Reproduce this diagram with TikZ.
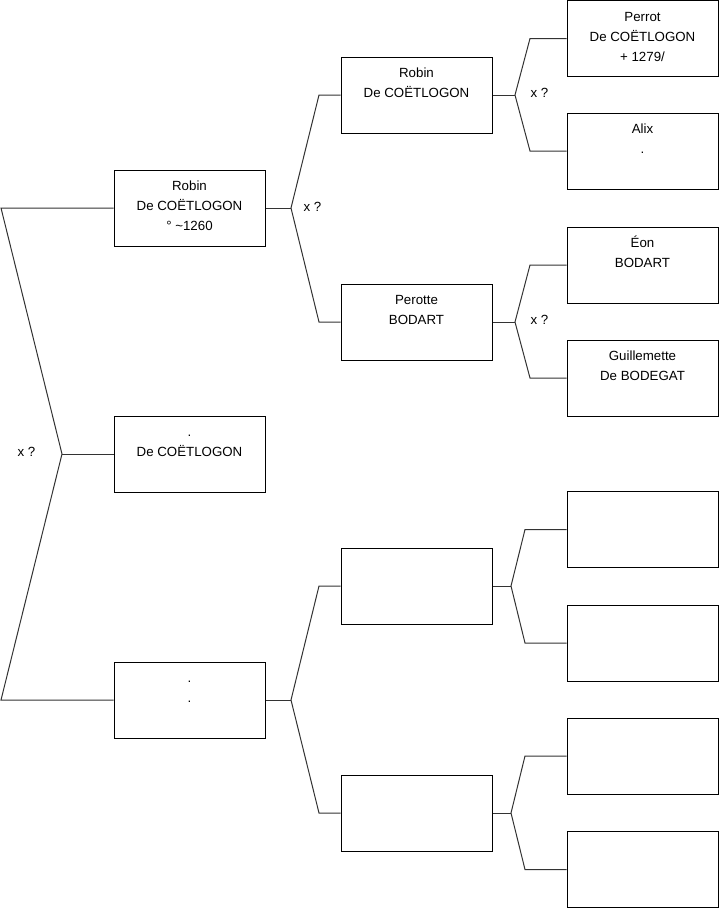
\documentclass[tikz,border=0pt]{standalone}
\usepackage{fontspec}
\setmainfont{Liberation Sans}
\newcommand\famtext{\fontsize{13.3pt}{20pt}\selectfont}
\begin{document}
\begin{tikzpicture}[x=1pt,y=1pt,
  box/.style={draw=black, line width=1pt, minimum width=151pt, minimum height=76pt, inner sep=0pt},
  txt/.style={align=center, inner sep=0pt, anchor=base, font=\famtext},
  lbl/.style={inner sep=0pt, font=\famtext},
  link/.style={draw=black!80, line width=1pt}]
\useasboundingbox (0,0) rectangle (719,-908);
% column 1
\node[box] (a1) at (189.5,-208) {};
\node[txt] (a1t) at (189.5,-230.5) {Robin\\De COËTLOGON\\° \textasciitilde1260};
\node[box] (a2) at (189.5,-454) {};
\node[txt] (a2t) at (189.5,-456.5) {.\\De COËTLOGON};
\node[box] (a3) at (189.5,-700) {};
\node[txt] (a3t) at (189.5,-702.5) {.\\.};
% column 2
\node[box] (b1) at (416.5,-95) {};
\node[txt] (b1t) at (416.5,-97.5) {Robin\\De COËTLOGON};
\node[box] (b2) at (416.5,-322) {};
\node[txt] (b2t) at (416.5,-324.5) {Perotte\\BODART};
\node[box] (b3) at (416.5,-586) {};
\node[box] (b4) at (416.5,-813) {};
% column 3
\node[box] (c1) at (642.5,-38.5) {};
\node[txt] (c1t) at (642.5,-61) {Perrot\\De COËTLOGON\\+ 1279/};
\node[box] (c2) at (642.5,-151) {};
\node[txt] (c2t) at (642.5,-153.5) {Alix\\.};
\node[box] (c3) at (642.5,-265) {};
\node[txt] (c3t) at (642.5,-267.5) {Éon\\BODART};
\node[box] (c4) at (642.5,-378) {};
\node[txt] (c4t) at (642.5,-380.5) {Guillemette\\De BODEGAT};
\node[box] (c5) at (642.5,-529.5) {};
\node[box] (c6) at (642.5,-643) {};
\node[box] (c7) at (642.5,-756) {};
\node[box] (c8) at (642.5,-869.5) {};
% fork points
\coordinate (f0) at (62,-454);
\coordinate (f0a) at (1,-208);
\coordinate (f0b) at (1,-700);
\coordinate (f1) at (291,-208);
\coordinate (f1a) at (319,-95);
\coordinate (f1b) at (319,-322);
\coordinate (f2) at (291,-700);
\coordinate (f2a) at (319,-586);
\coordinate (f2b) at (319,-813);
\coordinate (f3) at (515,-95);
\coordinate (f3a) at (530,-38.5);
\coordinate (f3b) at (530,-151);
\coordinate (f4) at (515,-322);
\coordinate (f4a) at (530,-265);
\coordinate (f4b) at (530,-378);
\coordinate (f5) at (511,-586);
\coordinate (f5a) at (525,-529.5);
\coordinate (f5b) at (525,-643);
\coordinate (f6) at (511,-813);
\coordinate (f6a) at (525,-756);
\coordinate (f6b) at (525,-869.5);
% connectors
\draw[link] (a2.west) -- (f0);
\draw[link] (a1.west) -- (f0a) -- (f0) -- (f0b) -- (a3.west);
\draw[link] (a1.east) -- (f1);
\draw[link] (b1.west) -- (f1a) -- (f1) -- (f1b) -- (b2.west);
\draw[link] (a3.east) -- (f2);
\draw[link] (b3.west) -- (f2a) -- (f2) -- (f2b) -- (b4.west);
\draw[link] (b1.east) -- (f3);
\draw[link] (c1.west) -- (f3a) -- (f3) -- (f3b) -- (c2.west);
\draw[link] (b2.east) -- (f4);
\draw[link] (c3.west) -- (f4a) -- (f4) -- (f4b) -- (c4.west);
\draw[link] (b3.east) -- (f5);
\draw[link] (c5.west) -- (f5a) -- (f5) -- (f5b) -- (c6.west);
\draw[link] (b4.east) -- (f6);
\draw[link] (c7.west) -- (f6a) -- (f6) -- (f6b) -- (c8.west);
% labels
\node[lbl] (x0) at (26.5,-452) {x ?};
\node[lbl] (x1) at (312.5,-207) {x ?};
\node[lbl] (x3) at (539.5,-92.5) {x ?};
\node[lbl] (x4) at (539.5,-320) {x ?};
\end{tikzpicture}
\end{document}
